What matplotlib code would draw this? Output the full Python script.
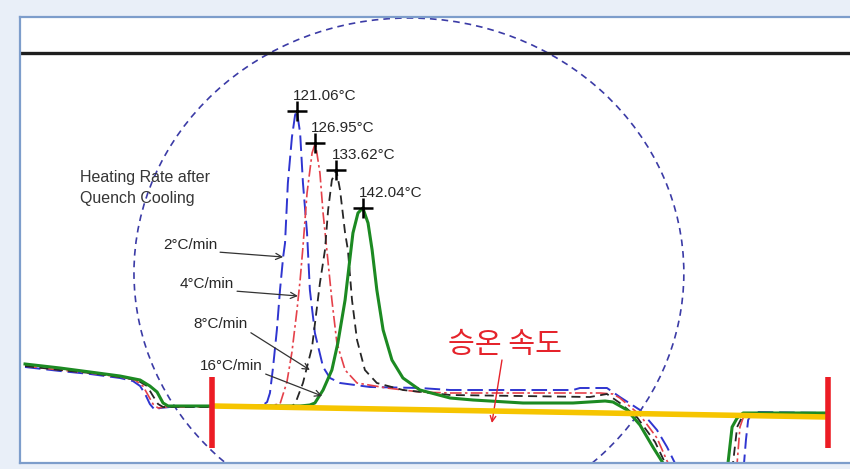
## IMPORTS ##############################################################################
import matplotlib
matplotlib.use( "Agg" )
import matplotlib.pyplot as plt
from matplotlib.patches import Ellipse

## Global Variables ##
# DSC heating scans after quench cooling: temperature (C) vs heat flow (arb.)
rates = [ "2°C/min", "4°C/min", "8°C/min", "16°C/min" ]
peakT = [ 121.06, 126.95, 133.62, 142.04 ]
peakHF = [ 35.2, 32.0, 29.3, 25.5 ]

t2 = [ 34.6, 45.7, 55.3, 64.8, 68.9, 71.2, 72.8, 74.3, 75.9, 77.5, 80.7, 94.4, 106.2, 110.3,
       111.6, 112.5, 113.5, 114.7, 115.7, 116.7, 117.3, 118.2, 119.5, 120.5, 121.06, 122.1,
       123.0, 124.3, 125.2, 126.8, 129.4, 131.6, 134.8, 144.3, 160.2, 169.8, 208.9, 211.1,
       219.7, 223.8, 230.2, 235.6, 238.8, 241.3, 242.9, 262.6, 263.3, 263.9, 264.6, 265.8,
       267.4, 289.7 ]
hf2 = [ 9.6, 9.2, 8.9, 8.5, 8.2, 7.7, 6.9, 5.9, 5.3, 5.5, 5.6, 5.6, 5.6, 5.8,
        6.1, 7.0, 9.6, 13.3, 17.3, 20.6, 22.0, 28.0, 32.6, 34.8, 35.2, 33.0,
        28.0, 23.0, 17.3, 13.0, 9.6, 8.5, 8.0, 7.6, 7.5, 7.3, 7.3, 7.5,
        7.5, 6.6, 5.3, 3.3, 1.6, 0.0, -1.5, -1.5, 0.0, 2.3, 4.3, 5.0,
        5.1, 5.0 ]

t4 = [ 34.6, 45.7, 55.3, 64.8, 69.6, 72.1, 73.7, 75.3, 76.9, 79.1, 94.4, 110.9, 113.5, 115.7,
       117.9, 119.5, 121.1, 122.1, 123.0, 124.3, 125.9, 126.95, 128.4, 129.4, 130.6, 132.2,
       133.8, 136.4, 140.2, 149.7, 160.2, 169.8, 217.5, 221.6, 223.8, 230.2, 235.6, 239.1,
       240.7, 260.4, 261.1, 262.0, 263.0, 264.6, 289.7 ]
hf4 = [ 9.7, 9.3, 9.0, 8.6, 8.3, 7.7, 6.8, 5.9, 5.5, 5.6, 5.6, 5.6, 5.8, 5.9,
        8.1, 11.1, 15.3, 18.3, 21.6, 27.0, 31.0, 32.0, 29.0, 25.0, 21.3, 16.3,
        12.0, 9.3, 8.0, 7.5, 7.1, 7.0, 7.0, 6.9, 6.5, 4.8, 2.5, 0.0,
        -1.5, -1.5, 0.0, 3.6, 4.5, 4.9, 4.9 ]

t8 = [ 34.6, 45.7, 55.3, 64.8, 70.2, 73.4, 75.3, 76.9, 78.5, 94.4, 118.9, 120.5, 123.0, 125.9,
       128.4, 130.0, 131.0, 132.2, 133.62, 134.8, 136.4, 137.3, 138.6, 140.2, 142.7, 146.5,
       154.8, 169.8, 214.3, 219.7, 223.8, 229.2, 235.0, 238.2, 239.7, 259.1, 259.8, 261.1,
       263.0, 289.7 ]
hf8 = [ 9.7, 9.3, 9.0, 8.6, 8.3, 7.7, 6.7, 5.9, 5.6, 5.6, 5.6, 5.9, 8.0, 11.6,
        18.0, 21.3, 25.3, 28.3, 29.3, 27.3, 23.0, 21.3, 16.3, 12.3, 9.3, 8.0,
        7.3, 6.8, 6.6, 6.9, 6.0, 4.6, 2.1, 0.0, -1.5, -1.5, 0.0, 3.6,
        4.8, 4.9 ]

t16 = [ 34.6, 45.7, 55.3, 64.8, 71.2, 74.3, 76.6, 78.5, 80.1, 94.4, 122.1, 125.2, 126.8, 129.4,
        132.2, 134.1, 136.4, 138.0, 138.9, 140.5, 142.04, 143.7, 145.0, 146.5, 148.5, 151.3,
        154.8, 160.2, 169.8, 177.1, 193.0, 208.9, 219.1, 221.6, 226.1, 230.2, 234.3, 237.5,
        239.1, 257.6, 258.2, 259.5, 261.1, 263.0, 289.7 ]
hf16 = [ 9.9, 9.5, 9.1, 8.7, 8.3, 7.7, 7.1, 6.0, 5.7, 5.7, 5.7, 5.8, 6.0, 7.3,
         9.3, 12.0, 16.3, 20.6, 23.0, 25.0, 25.5, 24.0, 21.3, 17.3, 13.3, 10.3,
         8.5, 7.3, 6.5, 6.3, 6.0, 6.0, 6.2, 6.1, 5.3, 3.8, 1.6, 0.0,
         -1.5, -1.5, 0.0, 3.6, 4.5, 5.0, 5.0 ]

# where each rate label sits and where its arrow points
labelT = [ 78.5, 83.9, 88.3, 90.3 ]
labelHF = [ 21.8, 17.9, 13.9, 9.7 ]
arrowT = [ 116.7, 121.4, 125.2, 129.1 ]
arrowHF = [ 20.6, 16.7, 9.3, 6.7 ]

# heating-rate baseline and its end markers
rangeT = [ 94.2, 290.0 ]
rangeHF = [ 5.7, 4.6 ]
markLo, markHi = 1.5, 8.6

topLine = 41.0
xlim = ( 33.0, 297.0 )
ylim = ( 0.0, 44.6 )

## Styles ##
curveStyles = [
    dict( color="#2f35d0", lw=1.4, ls=( 0, ( 8, 3 ) ) ),
    dict( color="#e5414a", lw=1.2, ls=( 0, ( 7, 2, 1.5, 2 ) ) ),
    dict( color="#262626", lw=1.3, ls=( 0, ( 5, 3 ) ) ),
    dict( color="#1c8a22", lw=2.2, ls="-" ),
]
curves = [ ( t2, hf2 ), ( t4, hf4 ), ( t8, hf8 ), ( t16, hf16 ) ]

plt.rcParams[ "font.family" ] = [ "Liberation Sans", "DejaVu Sans" ]

fig = plt.figure( figsize=( 8.5, 4.69 ), dpi=100, facecolor="#e9eff8" )
ax = fig.add_axes( [ 20 / 850, 6 / 469, 830 / 850, 446 / 469 ] )
ax.set_facecolor( "white" )
for side in [ "left", "top", "bottom" ]:
    ax.spines[ side ].set_color( "#7d9dcb" )
    ax.spines[ side ].set_linewidth( 1.6 )
ax.spines[ "right" ].set_visible( False )
ax.set_xticks( [] )
ax.set_yticks( [] )
ax.set_xlim( *xlim )
ax.set_ylim( *ylim )

ax.axhline( topLine, color="#1e1e1e", lw=2.4 )

# region of interest
ax.add_patch( Ellipse( ( 156.7, 19.0 ), 174.9, 51.0, fill=False,
                       ec="#3b3ba6", lw=1.2, ls=( 0, ( 4, 3 ) ) ) )

for ( t, hf ), st in zip( curves, curveStyles ):
    ax.plot( t, hf, **st )

# peak markers + labels
ax.plot( peakT, peakHF, "+", color="black", ms=15, mew=1.8, zorder=5 )
for pt, ph in zip( peakT, peakHF ):
    ax.annotate( f"{pt:.2f}°C", ( pt, ph ), xytext=( -4, 15 ), textcoords="offset pixels",
                 ha="left", va="center", fontsize=11, color="#262626" )

ax.text( 52.1, 29.3, "Heating Rate after\nQuench Cooling", ha="left", va="top",
         fontsize=11.5, color="#363636", linespacing=1.5 )

for lab, lt, lh, at, ah in zip( rates, labelT, labelHF, arrowT, arrowHF ):
    ax.annotate( lab, ( at, ah ), xytext=( lt, lh ), ha="left", va="center",
                 fontsize=11, color="#262626",
                 arrowprops=dict( arrowstyle="->", color="#333333", lw=0.9,
                                  relpos=( 1, 0 ), shrinkA=0, shrinkB=0 ) )

# heating-rate baseline
ax.plot( rangeT, rangeHF, color="#f6c500", lw=4, solid_capstyle="butt", zorder=6 )
ax.vlines( rangeT, markLo, markHi, color="#ec1c24", lw=4, zorder=7 )

ax.annotate( "", ( 183.1, 4.0 ), xytext=( 186.3, 10.3 ),
             arrowprops=dict( arrowstyle="->", color="#e5232b", lw=1.0,
                              shrinkA=0, shrinkB=0 ) )
ax.text( 169.1, 11.8, "승온 속도", ha="left", va="center", fontsize=21,
         color="#e5232b", family=[ "Noto Sans CJK KR", "DejaVu Sans" ] )

fig.savefig( "out.png", dpi=100, facecolor=fig.get_facecolor() )
